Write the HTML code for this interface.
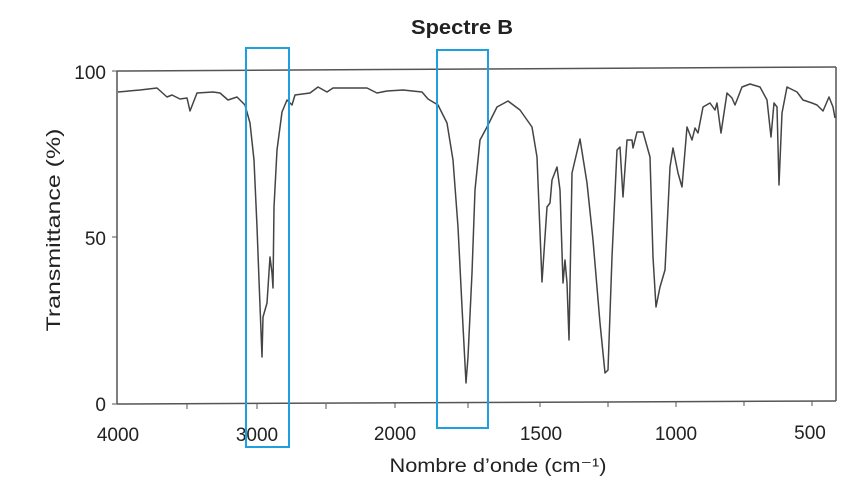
<!DOCTYPE html><html><head><style>body{margin:0;background:#fff}svg{display:block}text{font-family:"Liberation Sans",sans-serif;fill:#222}</style></head><body>
<svg width="841" height="487" viewBox="0 0 841 487">
<text x="462" y="34" font-size="20" font-weight="bold" text-anchor="middle" textLength="102" lengthAdjust="spacingAndGlyphs">Spectre B</text>
<line x1="117" y1="71" x2="836" y2="67" stroke="#555" stroke-width="1.5"/>
<line x1="117" y1="71" x2="117" y2="404" stroke="#555" stroke-width="1.5"/>
<line x1="117" y1="404" x2="836" y2="401" stroke="#555" stroke-width="1.5"/>
<line x1="836" y1="67" x2="836" y2="401" stroke="#555" stroke-width="1.5"/>
<g stroke="#555" stroke-width="1">
<line x1="112" y1="71" x2="117" y2="71"/><line x1="112" y1="237" x2="117" y2="237"/><line x1="112" y1="404" x2="117" y2="404"/>
<line x1="187" y1="404" x2="187" y2="409"/><line x1="257" y1="404" x2="257" y2="409"/><line x1="326" y1="404" x2="326" y2="409"/><line x1="395" y1="403" x2="395" y2="408"/><line x1="468" y1="403" x2="468" y2="408"/><line x1="540" y1="402" x2="540" y2="407"/><line x1="608" y1="402" x2="608" y2="407"/><line x1="676" y1="402" x2="676" y2="407"/><line x1="744" y1="401" x2="744" y2="406"/><line x1="812" y1="401" x2="812" y2="406"/>
</g>
<g font-size="19">
<text x="106" y="79" text-anchor="end">100</text>
<text x="106" y="245" text-anchor="end">50</text>
<text x="106" y="411" text-anchor="end">0</text>
<text x="118" y="441" text-anchor="middle">4000</text>
<text x="257" y="441" text-anchor="middle">3000</text>
<text x="395" y="440" text-anchor="middle">2000</text>
<text x="541" y="440" text-anchor="middle">1500</text>
<text x="676" y="440" text-anchor="middle">1000</text>
<text x="810" y="439" text-anchor="middle">500</text>
<text x="498" y="472" text-anchor="middle" textLength="217" lengthAdjust="spacingAndGlyphs">Nombre d’onde (cm⁻¹)</text>
<text transform="translate(60,230) rotate(-90)" text-anchor="middle" textLength="203" lengthAdjust="spacingAndGlyphs">Transmittance (%)</text>
</g>
<polyline fill="none" stroke="#444" stroke-width="1.5" stroke-linejoin="round" points="118,92 140,90 157,88 167,97 172,95 180,99 187,98 190,111 197,93 213,92 220,93 228,100 237,97 245,105 250,123 254,160 257,227 259,280 262,357 263,317 267,303 270,257 272,273 273,288 274,207 277,150 282,112 287,100 292,105 295,95 310,93 318,87 327,92 333,88 367,88 377,93 387,91 403,90 422,92 428,99 438,105 447,123 453,160 458,227 462,307 466,383 468,357 472,273 475,190 480,140 487,127 497,107 508,101 520,110 532,127 537,157 542,282 547,207 550,203 552,180 557,167 560,190 563,283 565,260 567,283 569,340 572,173 580,139 587,183 593,240 600,323 605,373 608,370 612,257 617,150 620,147 623,197 627,140 632,140 633,148 637,132 643,132 650,157 653,257 656,307 660,287 665,270 670,167 673,148 678,173 682,187 687,127 692,140 695,128 698,133 703,107 710,103 715,110 717,103 721,133 727,93 732,98 735,105 742,87 750,84 760,87 767,100 771,137 774,103 777,107 779,185 782,113 787,87 797,92 803,100 812,103 817,105 823,111 829,97 833,107 835,118"/>
<rect x="246" y="48" width="43" height="399" fill="none" stroke="#1ea0e0" stroke-width="2"/>
<rect x="437" y="50" width="51" height="378" fill="none" stroke="#1ea0e0" stroke-width="2"/>
</svg></body></html>
